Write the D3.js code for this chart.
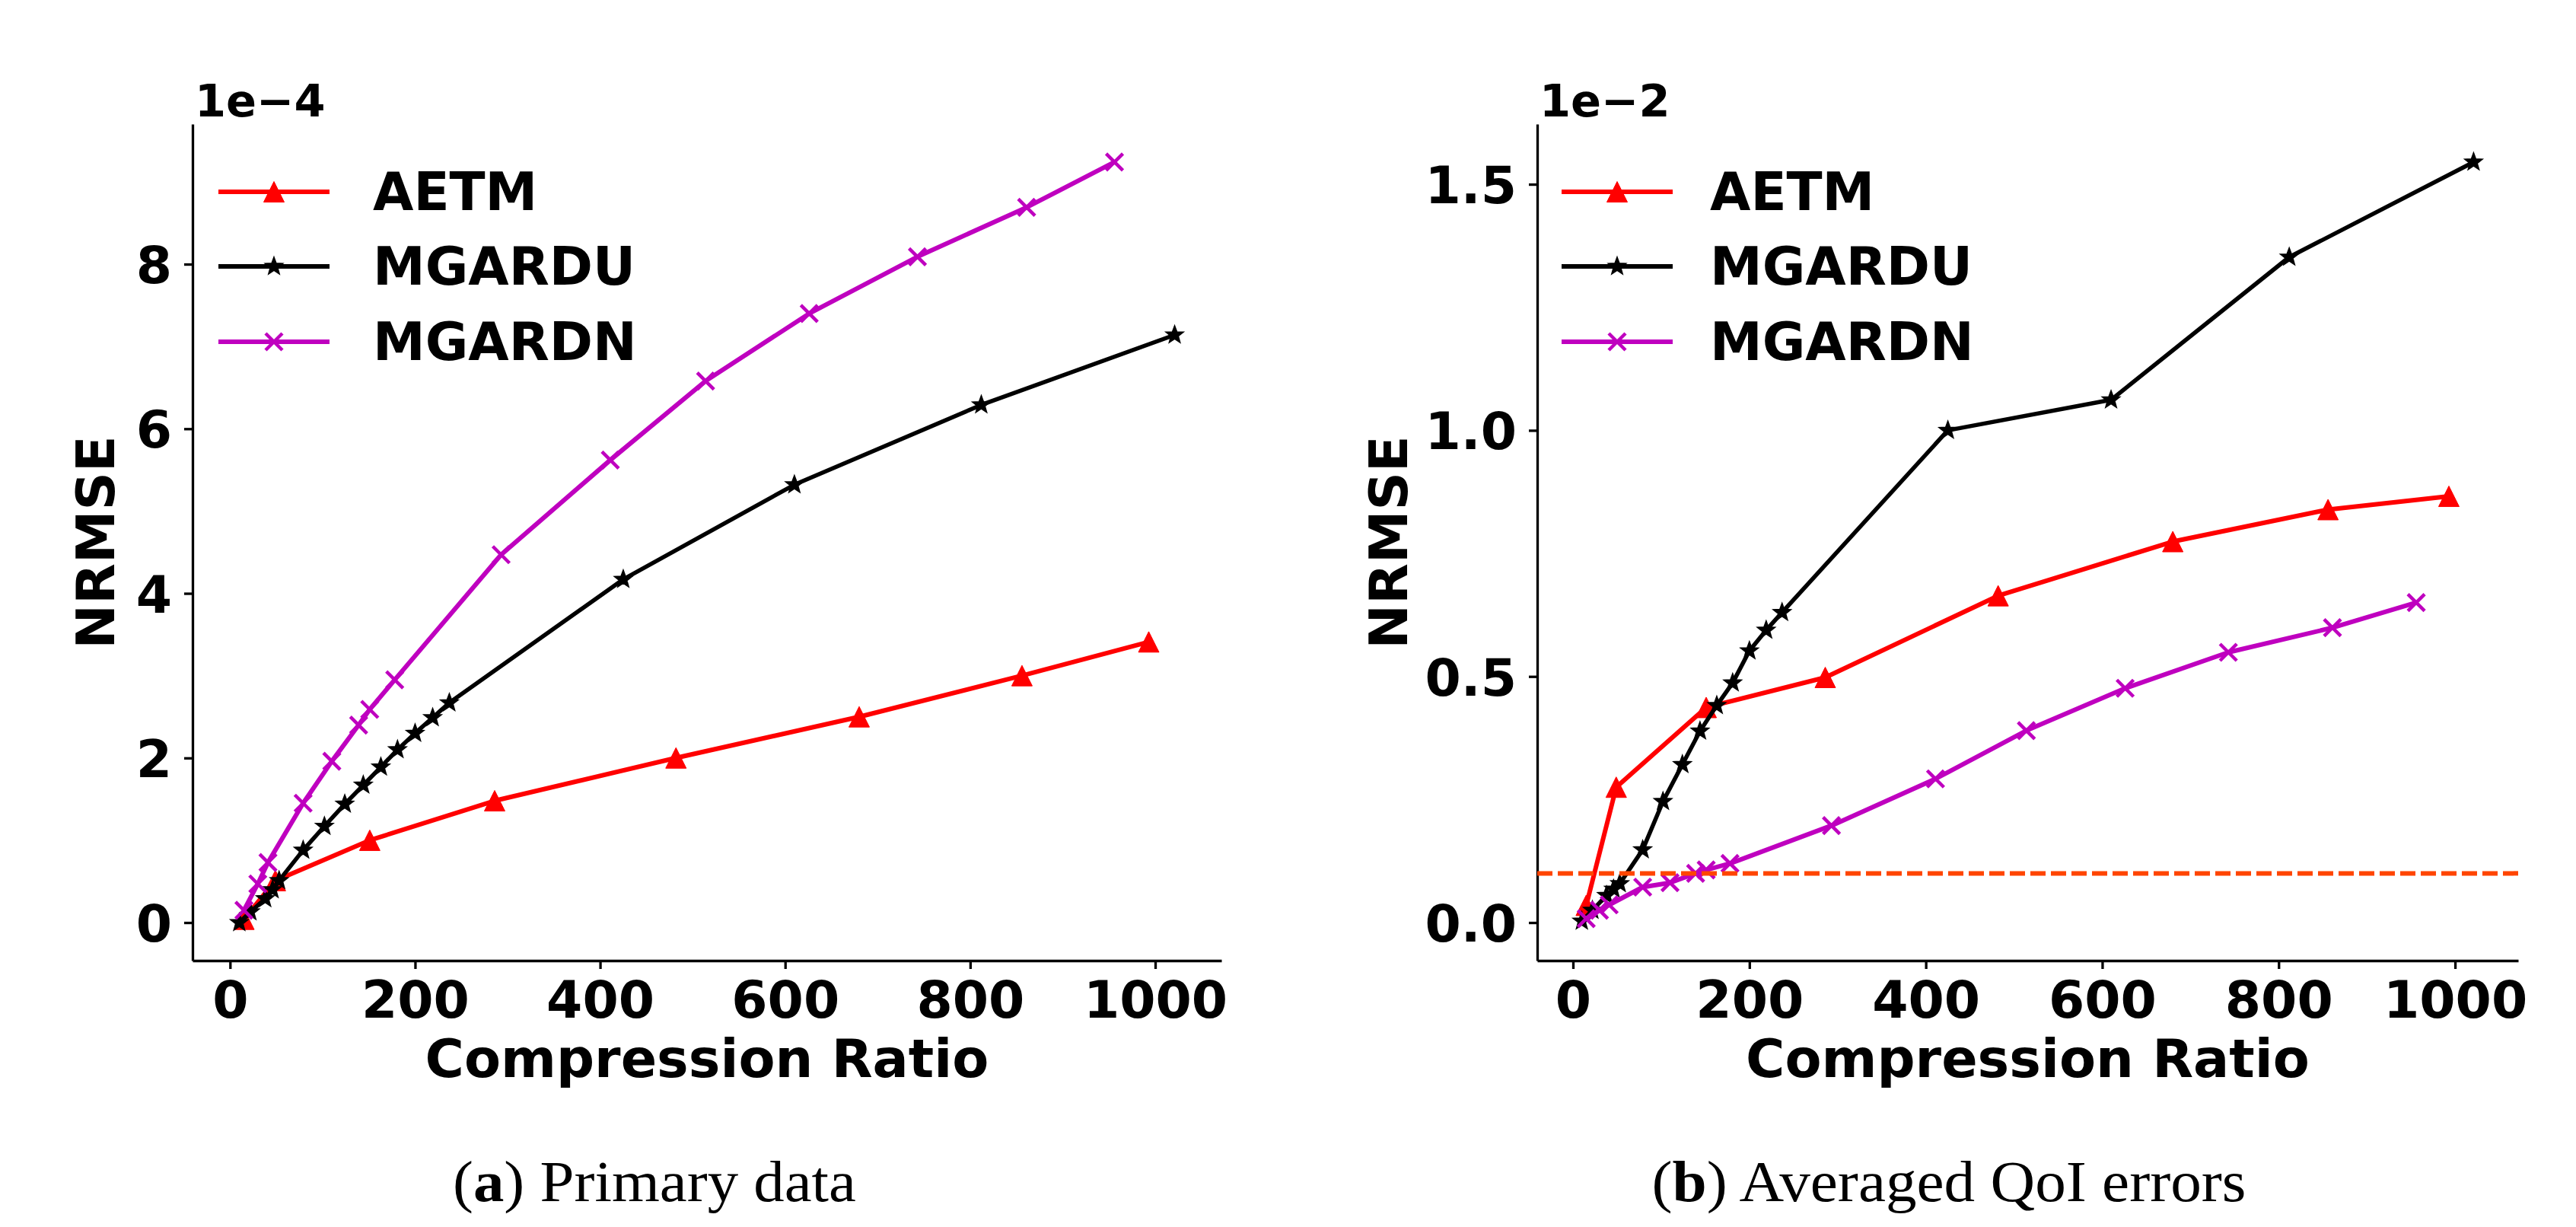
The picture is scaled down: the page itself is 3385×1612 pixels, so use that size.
<!DOCTYPE html>
<html>
<head>
<meta charset="utf-8">
<script src="https://cdn.jsdelivr.net/npm/d3@7"></script>
<style>
  body { margin: 0; background: #fff; }
  svg text { font-family: "DejaVu Sans", sans-serif; font-weight: bold; }
  svg text.caption { font-family: "Liberation Serif", serif; font-weight: normal; }
</style>
</head>
<body>
<div id="container"></div>
<script>
const width = 3385;
const height = 1612;

// compression ratios (x) per method
const ratioAETM = [15, 49, 151, 286, 482, 680, 856, 993];
const ratioMGARDU = [10, 22, 38, 46, 53, 79, 102, 124, 144, 163, 181, 200, 219, 237, 425, 610, 812, 1021];
const ratioMGARDN = [15, 30, 41, 79, 110, 139, 151, 178, 293, 411, 514, 626, 743, 861, 956];

// (a) primary data NRMSE, in units of 1e-4
const primaryAETM = [0.04, 0.51, 1.00, 1.48, 2.00, 2.50, 3.00, 3.41];
const primaryMGARDU = [0.0, 0.13, 0.29, 0.40, 0.51, 0.88, 1.17, 1.44, 1.67, 1.89, 2.10, 2.30, 2.49, 2.67, 4.17, 5.32, 6.29, 7.14];
const primaryMGARDN = [0.15, 0.47, 0.73, 1.45, 1.96, 2.40, 2.59, 2.95, 4.47, 5.62, 6.58, 7.40, 8.09, 8.69, 9.24];

// (b) averaged QoI NRMSE, in units of 1e-2
const qoiAETM = [0.035, 0.275, 0.437, 0.498, 0.664, 0.774, 0.839, 0.866];
const qoiMGARDU = [0.003, 0.025, 0.055, 0.068, 0.079, 0.148, 0.246, 0.321, 0.389, 0.441, 0.487, 0.552, 0.594, 0.630, 1.000, 1.062, 1.352, 1.545];
const qoiMGARDN = [0.008, 0.025, 0.036, 0.072, 0.081, 0.100, 0.107, 0.120, 0.197, 0.292, 0.390, 0.476, 0.549, 0.599, 0.650];
const qoiThreshold = 0.1;

// tick labels
const xTicks = [0, 200, 400, 600, 800, 1000];
const primaryTicks = [0, 2, 4, 6, 8];
const qoiTicks = [0, 0.5, 1.0, 1.5];
const seriesNames = ["AETM", "MGARDU", "MGARDN"];

let svg = d3.select("#container")
  .append("svg")
  .attr("width", width)
  .attr("height", height);

// marker shapes (matplotlib ^, *, x)
function starPath(ro, ri) {
  let pts = [];
  for (let i = 0; i < 10; i++) {
    let r = i % 2 === 0 ? ro : ri;
    let a = -Math.PI / 2 + i * Math.PI / 5;
    pts.push([r * Math.cos(a), r * Math.sin(a)]);
  }
  return "M" + pts.map(p => p[0].toFixed(2) + "," + p[1].toFixed(2)).join("L") + "Z";
}
const markers = {
  AETM: { d: "M0,-13.5L-13.5,13.5L13.5,13.5Z", fill: "#ff0000", stroke: "#ff0000", sw: 1 },
  MGARDU: { d: starPath(11.5, 4.8), fill: "#000000", stroke: "#000000", sw: 2 },
  MGARDN: { d: "M-11,-11L11,11M-11,11L11,-11", fill: "none", stroke: "#bf00bf", sw: 4.5 }
};
const colors = { AETM: "#ff0000", MGARDU: "#000000", MGARDN: "#bf00bf" };
const lineWidths = { AETM: 6, MGARDU: 5.5, MGARDN: 6 };

function padded(ext) {
  let m = (ext[1] - ext[0]) * 0.05;
  return [ext[0] - m, ext[1] + m];
}

function drawPanel(p) {
  let allX = [].concat(ratioAETM, ratioMGARDU, ratioMGARDN);
  let allY = [].concat(p.data.AETM, p.data.MGARDU, p.data.MGARDN);
  let x = d3.scaleLinear().domain(padded(d3.extent(allX))).range([p.left, p.right]);
  let y = d3.scaleLinear().domain(padded([Math.min(0, d3.min(allY)), d3.max(allY)])).range([p.bottom, p.top]);

  let g = svg.append("g");

  // axes (left + bottom spines only)
  let xAxis = g.append("g")
    .attr("transform", "translate(0," + p.bottom + ")")
    .call(d3.axisBottom(x).tickValues(xTicks).tickSize(11).tickSizeOuter(0).tickFormat(d3.format("d")));
  xAxis.selectAll("text").attr("y", 75).attr("dy", null).style("font-size", "68px");

  let yAxis = g.append("g")
    .attr("transform", "translate(" + p.left + ",0)")
    .call(d3.axisLeft(y).tickValues(p.ticks).tickSize(11).tickSizeOuter(0).tickFormat(d3.format(p.fmt)));
  yAxis.selectAll("text").attr("x", -27).attr("dy", "0.36em").style("font-size", "68px");

  [xAxis, yAxis].forEach(a => {
    a.select(".domain").attr("stroke-width", 3.3);
    a.selectAll(".tick line").attr("stroke-width", 3.3);
    a.selectAll("text").attr("fill", "#000");
  });

  // offset text
  g.append("text")
    .attr("x", p.left + 3)
    .attr("y", 153)
    .style("font-size", "59px")
    .text(p.offset);

  // axis labels
  g.append("text")
    .attr("x", (p.left + p.right) / 2)
    .attr("y", 1415)
    .attr("text-anchor", "middle")
    .style("font-size", "70px")
    .text("Compression Ratio");
  g.append("text")
    .attr("transform", "translate(" + p.ylabX + "," + (p.top + p.bottom) / 2 + ")rotate(-90)")
    .attr("text-anchor", "middle")
    .style("font-size", "70px")
    .text("NRMSE");

  let line = d3.line().x(d => x(d[0])).y(d => y(d[1]));
  let ratios = { AETM: ratioAETM, MGARDU: ratioMGARDU, MGARDN: ratioMGARDN };

  seriesNames.forEach(name => {
    let pts = ratios[name].map((r, i) => [r, p.data[name][i]]);
    g.append("path")
      .datum(pts)
      .attr("fill", "none")
      .attr("stroke", colors[name])
      .attr("stroke-width", lineWidths[name])
      .attr("stroke-linejoin", "round")
      .attr("d", line);
    let mk = markers[name];
    g.selectAll(null)
      .data(pts)
      .enter()
      .append("path")
      .attr("transform", d => "translate(" + x(d[0]) + "," + y(d[1]) + ")")
      .attr("d", mk.d)
      .attr("fill", mk.fill)
      .attr("stroke", mk.stroke)
      .attr("stroke-width", mk.sw);
  });

  if (p.threshold !== undefined) {
    g.append("line")
      .attr("x1", p.left).attr("x2", p.right)
      .attr("y1", y(p.threshold)).attr("y2", y(p.threshold))
      .attr("stroke", "#ff4500")
      .attr("stroke-width", 6)
      .attr("stroke-dasharray", "20,7");
  }

  // legend
  let rows = [252, 350, 449];
  seriesNames.forEach((name, i) => {
    let lg = g.append("g").attr("transform", "translate(0," + rows[i] + ")");
    lg.append("line")
      .attr("x1", p.legX).attr("x2", p.legX + 146)
      .attr("stroke", colors[name])
      .attr("stroke-width", 6);
    let mk = markers[name];
    lg.append("path")
      .attr("transform", "translate(" + (p.legX + 73) + ",0)")
      .attr("d", mk.d)
      .attr("fill", mk.fill)
      .attr("stroke", mk.stroke)
      .attr("stroke-width", mk.sw);
    lg.append("text")
      .attr("x", p.legTextX)
      .attr("y", 24)
      .style("font-size", "69px")
      .text(name);
  });

  // caption
  let cap = svg.append("text")
    .attr("class", "caption")
    .attr("x", p.capX)
    .attr("y", 1578)
    .attr("text-anchor", "middle")
    .attr("textLength", p.capLen)
    .attr("lengthAdjust", "spacingAndGlyphs")
    .style("font-size", "77px");
  cap.append("tspan").text("(");
  cap.append("tspan").style("font-weight", "bold").text(p.capLetter);
  cap.append("tspan").text(") " + p.caption);
}

drawPanel({
  left: 253, right: 1605, top: 163, bottom: 1262,
  data: { AETM: primaryAETM, MGARDU: primaryMGARDU, MGARDN: primaryMGARDN },
  ticks: primaryTicks, fmt: "d", offset: "1e\u22124",
  ylabX: 150, legX: 287, legTextX: 490,
  capX: 860, capLen: 530, capLetter: "a", caption: "Primary data"
});

drawPanel({
  left: 2020, right: 3309, top: 163, bottom: 1262,
  data: { AETM: qoiAETM, MGARDU: qoiMGARDU, MGARDN: qoiMGARDN },
  ticks: qoiTicks, fmt: ".1f", offset: "1e\u22122", threshold: qoiThreshold,
  ylabX: 1849, legX: 2052, legTextX: 2247,
  capX: 2561, capLen: 781, capLetter: "b", caption: "Averaged QoI errors"
});
</script>
</body>
</html>
